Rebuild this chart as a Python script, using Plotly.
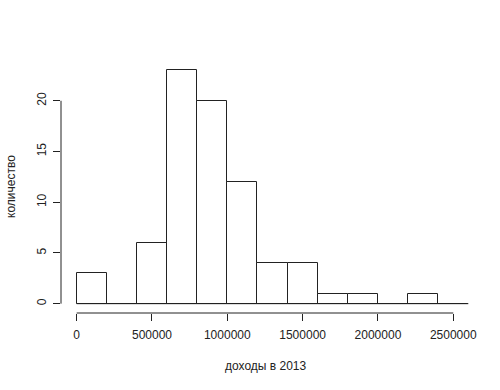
import plotly.graph_objects as go

# Histogram data (R-style hist): bin edges and counts
breaks = [0, 200000, 400000, 600000, 800000, 1000000, 1200000, 1400000,
          1600000, 1800000, 2000000, 2200000, 2400000, 2600000]
counts = [3, 0, 6, 23, 20, 12, 4, 4, 1, 1, 0, 1, 0]

x_ticks = [0, 500000, 1000000, 1500000, 2000000, 2500000]
x_tick_labels = ["0", "500000", "1000000", "1500000", "2000000", "2500000"]
y_ticks = [0, 5, 10, 15, 20]
y_tick_labels = ["0", "5", "10", "15", "20"]

x_title = "доходы в 2013"
y_title = "количество"

mids = [(a + b) / 2 for a, b in zip(breaks[:-1], breaks[1:])]
widths = [b - a for a, b in zip(breaks[:-1], breaks[1:])]

line_col = "#222222"
font_fam = "Liberation Sans, Arial, sans-serif"

fig = go.Figure()
fig.add_trace(go.Bar(
    x=mids, y=counts, width=widths,
    marker=dict(color="white", line=dict(color=line_col, width=1)),
    hoverinfo="x+y", showlegend=False,
))

# R-style extended ranges (4%)
xmin, xmax = breaks[0], breaks[-1]
xpad = (xmax - xmin) * 0.04
ymax = max(counts)
ypad = ymax * 0.04

fig.update_layout(
    width=500, height=390,
    margin=dict(l=61, r=15.5, t=61, b=76.7, autoexpand=False),
    paper_bgcolor="white", plot_bgcolor="white",
    font=dict(family=font_fam, size=12, color="#222222"),
    bargap=0,
    xaxis=dict(
        range=[xmin - xpad, xmax + xpad],
        tickvals=x_ticks, ticktext=x_tick_labels,
        ticks="outside", ticklen=7, tickcolor=line_col, tickwidth=1,
        showgrid=False, zeroline=False, showline=False,
        automargin=False,
        ticklabelstandoff=4,
        tickfont=dict(size=12, color="#222222"),
    ),
    yaxis=dict(
        range=[-ypad, ymax + ypad],
        tickvals=y_ticks, ticktext=y_tick_labels,
        ticks="outside", ticklen=7, tickcolor=line_col, tickwidth=1,
        tickangle=-90,
        showgrid=False, zeroline=False, showline=False,
        automargin=False,
        ticklabelstandoff=2,
        tickfont=dict(size=12, color="#222222"),
    ),
    shapes=[
        # baseline of the histogram across all bins
        dict(type="line", xref="x", yref="y", x0=breaks[0], x1=breaks[-1],
             y0=0, y1=0, line=dict(color=line_col, width=1)),
        # x axis line (tick range only)
        dict(type="line", xref="x", yref="paper", x0=x_ticks[0], x1=x_ticks[-1],
             y0=0, y1=0, line=dict(color=line_col, width=1)),
        # y axis line (tick range only)
        dict(type="line", xref="paper", yref="y", x0=0, x1=0,
             y0=y_ticks[0], y1=y_ticks[-1], line=dict(color=line_col, width=1)),
    ],
    annotations=[
        dict(text=x_title, xref="paper", yref="paper", x=0.484, y=0,
             yshift=-53, showarrow=False, xanchor="center", yanchor="middle",
             font=dict(size=12, color="#222222")),
        dict(text=y_title, xref="paper", yref="paper", x=0, y=0.5,
             xshift=-50, showarrow=False, textangle=-90,
             xanchor="center", yanchor="middle",
             font=dict(size=12, color="#222222")),
    ],
)

# remove the default 8px page margin so the figure fills the window exactly
fig.write_html("out.html", config={"displayModeBar": False},
               post_script="document.body.style.margin='0';")
